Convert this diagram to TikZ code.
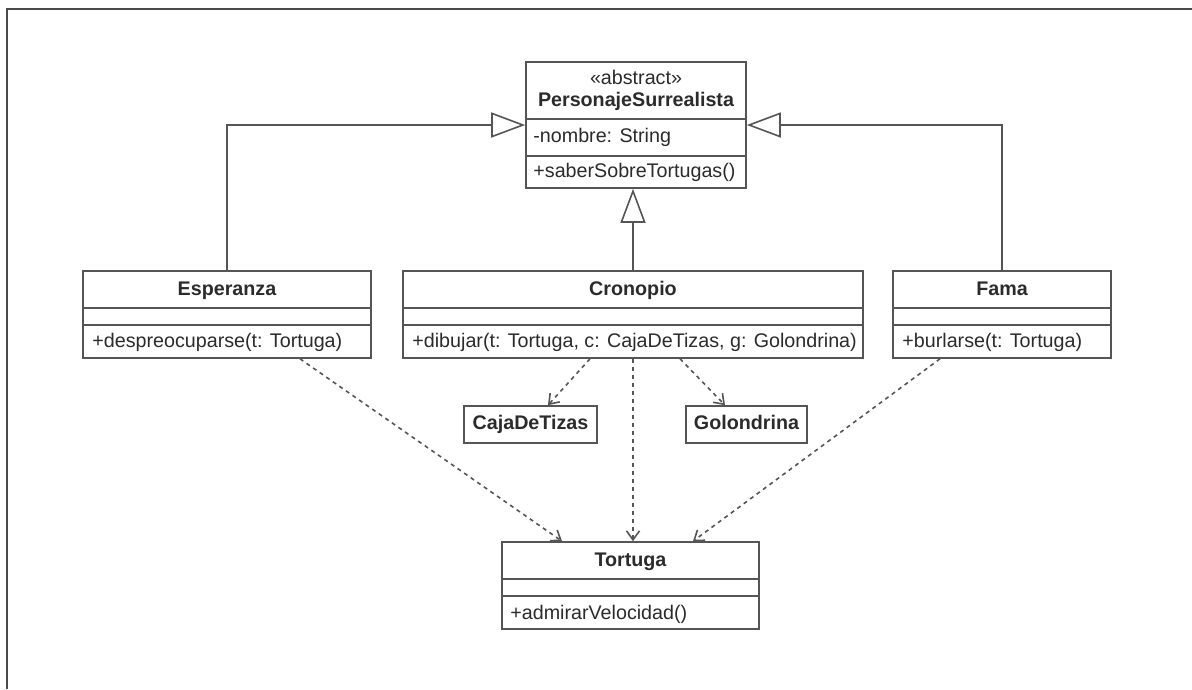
\documentclass[tikz,border=0pt]{standalone}
\usepackage{fontspec}
\setmainfont{Liberation Sans}
\usetikzlibrary{arrows.meta}
\definecolor{ink}{HTML}{2B2B2B}
\definecolor{edge}{HTML}{555555}
\definecolor{frame}{HTML}{4A4A4A}

\begin{document}
\begin{tikzpicture}[x=1pt,y=-1pt,
  every node/.style={font=\fontsize{19.7}{23}\selectfont, text=ink},
  umlbox/.style={draw=edge, line width=1.6pt, inner sep=0pt, fill=white},
  lbl/.style={inner sep=0pt, text height=14pt, text depth=4pt},
  ttl/.style={lbl, font=\fontsize{19.7}{23}\selectfont\bfseries},
  member/.style={lbl, anchor=west},
  sep/.style={draw=edge, line width=1.6pt},
  gen/.style={draw=edge, line width=1.6pt, -{Triangle[open, length=34pt, width=25pt, fill=white]}},
  dep/.style={draw=edge, line width=1.6pt, dash pattern=on 4pt off 4pt, -{Straight Barb[length=9pt, width=13pt]}}
]
\useasboundingbox (0,0) rectangle (1192,689);

% page frame (top and left edges)
\draw[frame, line width=2.5pt] (7,689) -- (7,9) -- (1192,9);

% ---- abstract base class ----
\node[umlbox, minimum width=220pt, minimum height=126pt] (ps) at (636,125) {};
\draw[sep] ([yshift=-58pt]ps.north west) -- ([yshift=-58pt]ps.north east);
\draw[sep] ([yshift=-95pt]ps.north west) -- ([yshift=-95pt]ps.north east);
\node[lbl] (psst) at ([yshift=-18pt]ps.north) {«abstract»};
\node[ttl] (psname) at ([yshift=-40pt]ps.north) {PersonajeSurrealista};
\node[member] (psattr) at ([xshift=8pt,yshift=-76pt]ps.north west) {-nombre: String};
\node[member] (psop) at ([xshift=8pt,yshift=-111pt]ps.north west) {+saberSobreTortugas()};

% ---- subclasses ----
\node[umlbox, minimum width=288pt, minimum height=87pt] (esp) at (227,314.5) {};
\node[umlbox, minimum width=460pt, minimum height=87pt] (cro) at (633,314.5) {};
\node[umlbox, minimum width=218pt, minimum height=87pt] (fam) at (1002,314.5) {};
\node[umlbox, minimum width=257pt, minimum height=87pt] (tor) at (630.5,585.5) {};
\foreach \b in {esp,cro,fam,tor}{
  \draw[sep] ([yshift=-38pt]\b.north west) -- ([yshift=-38pt]\b.north east);
  \draw[sep] ([yshift=-55pt]\b.north west) -- ([yshift=-55pt]\b.north east);
}
\node[ttl] (espname) at ([yshift=-20pt]esp.north) {Esperanza};
\node[member] (espop) at ([xshift=10pt,yshift=-72pt]esp.north west) {+despreocuparse(t: Tortuga)};
\node[ttl] (croname) at ([yshift=-20pt]cro.north) {Cronopio};
\node[member] (croop) at ([xshift=10pt,yshift=-72pt]cro.north west) {+dibujar(t: Tortuga, c: CajaDeTizas, g: Golondrina)};
\node[ttl] (famname) at ([yshift=-20pt]fam.north) {Fama};
\node[member] (famop) at ([xshift=10pt,yshift=-72pt]fam.north west) {+burlarse(t: Tortuga)};
\node[ttl] (torname) at ([yshift=-20pt]tor.north) {Tortuga};
\node[member] (torop) at ([xshift=9pt,yshift=-73pt]tor.north west) {+admirarVelocidad()};

% ---- plain classes ----
\node[umlbox, minimum width=133pt, minimum height=37pt] (caja) at (530.5,424.5) {};
\node[ttl] (cajaname) at (caja.center) {CajaDeTizas};
\node[umlbox, minimum width=121pt, minimum height=37pt] (gol) at (746.5,424.5) {};
\node[ttl] (golname) at (gol.center) {Golondrina};

% ---- generalizations ----
\draw[gen] (esp.north) |- (ps.west);
\draw[gen] (fam.north) |- (ps.east);
\draw[gen] (cro.north) -- (cro.north |- ps.south);

% ---- dependencies ----
\draw[dep] ([xshift=-43pt]cro.south) -- ([xshift=17.5pt]caja.north);
\draw[dep] ([xshift=47pt]cro.south) -- ([xshift=-21.5pt]gol.north);
\draw[dep] (cro.south) -- (cro.south |- tor.north);
\draw[dep] ([xshift=73pt]esp.south) -- ([xshift=-68.5pt]tor.north);
\draw[dep] ([xshift=-62pt]fam.south) -- ([xshift=62.5pt]tor.north);
\end{tikzpicture}
\end{document}
